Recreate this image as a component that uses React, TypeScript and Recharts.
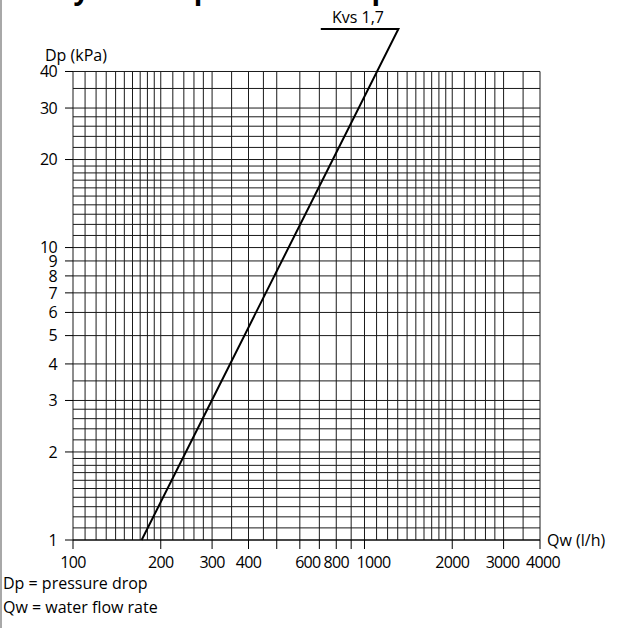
import React from "react"
import { ComposedChart, Line, XAxis, YAxis, ReferenceLine, ReferenceDot } from "recharts"

// grid lines of the log-log paper
const xGridLines = [
	100, 110, 120, 130, 140, 150, 160, 170, 180, 190, 200, 220, 240, 260, 280, 300, 350, 400, 450, 500, 600, 700, 800,
	900, 1000, 1100, 1200, 1300, 1400, 1500, 1600, 1700, 1800, 1900, 2000, 2200, 2400, 2600, 2800, 3000, 3500, 4000,
]
const yGridLines = [
	1, 1.1, 1.2, 1.3, 1.4, 1.5, 1.6, 1.7, 1.8, 1.9, 2, 2.2, 2.4, 2.6, 2.8, 3, 3.5, 4, 5, 6, 7, 8, 9, 10, 11, 12, 13, 14,
	15, 16, 17, 18, 19, 20, 22, 24, 26, 28, 30, 35, 40,
]

// axis ticks
const xTicks = [100, 200, 300, 400, 500, 600, 700, 800, 900, 1000, 2000, 3000, 4000]
const xTickLabels = [100, 200, 300, 400, 600, 800, 1000, 2000, 3000, 4000]
const yTicks = [1, 2, 3, 4, 5, 6, 7, 8, 9, 10, 20, 30, 40]

// Kvs 1,7 curve with its label leader
const kvsCurve = [
	{ q: 708, dp: 55.9 },
	{ q: 1307, dp: 55.9 },
	{ q: 172, dp: 1 },
]

const font = "'Open Sans', sans-serif"
const gridColor = "#1a1a1a"
const fontSize = 16
const digitSpacing = -0.7 // digits in the original are narrower than Open Sans

// the original nudges a few crowded labels sideways
const labelShift: Record<number, number> = { 600: 8, 1000: 9, 3000: -1, 4000: 3 }

const XTick = ({ x, y, payload }: any) => {
	const v = payload.value
	if (!xTickLabels.includes(v)) return null
	return (
		<text
			x={x + (labelShift[v] || 0)}
			y={y}
			dy="0.71em"
			textAnchor="middle"
			fontSize={fontSize}
			fontFamily={font}
			letterSpacing={digitSpacing}
			fill="#000">
			{v}
		</text>
	)
}

export default function App() {
	return (
		<div style={{ position: "absolute", left: 0, top: 0, width: 624, height: 628, background: "#fff", overflow: "hidden" }}>
			<ComposedChart width={624} height={628} margin={{ top: 20, right: 84, left: 13, bottom: 58 }}>
				<XAxis
					dataKey="q"
					type="number"
					scale="log"
					domain={[100, 4000]}
					ticks={xTicks}
					interval={0}
					tick={<XTick />}
					tickSize={9}
					tickMargin={8}
					stroke="#000"
					height={30}
				/>
				<YAxis
					type="number"
					scale="log"
					domain={[1, 60]}
					ticks={yTicks}
					interval={0}
					axisLine={false}
					tick={{ fontSize, fontFamily: font, fill: "#000", letterSpacing: digitSpacing }}
					tickSize={8}
					tickMargin={8}
					tickLine={{ stroke: "#000" }}
					width={60}
				/>
				{xGridLines.map((x) => (
					<ReferenceLine
						key={"vx" + x}
						segment={[
							{ x, y: 1 },
							{ x, y: 40 },
						]}
						stroke={gridColor}
						strokeWidth={1}
					/>
				))}
				{yGridLines.map((y) => (
					<ReferenceLine
						key={"hy" + y}
						segment={[
							{ x: 100, y },
							{ x: 4000, y },
						]}
						stroke={gridColor}
						strokeWidth={1}
					/>
				))}
				<Line
					data={kvsCurve}
					dataKey="dp"
					type="linear"
					stroke="#000"
					strokeWidth={2}
					dot={false}
					activeDot={false}
					isAnimationActive={false}
				/>
				<ReferenceDot
					x={950}
					y={55.9}
					r={0}
					fill="none"
					stroke="none"
					label={{ value: "Kvs 1,7", position: "top", offset: 6, fontSize, fontFamily: font, fill: "#000" }}
				/>
				<ReferenceDot
					x={4000}
					y={1}
					r={0}
					fill="none"
					stroke="none"
					label={{ value: "Qw (l/h)", position: "right", offset: 7, fontSize, fontFamily: font, fill: "#000" }}
				/>
			</ComposedChart>
			<svg width={624} height={628} style={{ position: "absolute", left: 0, top: 0, pointerEvents: "none" }}>
				<line x1={1} y1={0} x2={1} y2={628} stroke="#a8a8a8" strokeWidth={2} />
				<text x={52} y={-1.5} fontSize={28} fontWeight={700} fontFamily={font} fill="#000">
					Hydraulic pressure drop
				</text>
				<text x={45} y={61} fontSize={fontSize} fontFamily={font} fill="#000">
					Dp (kPa)
				</text>
				<text x={3} y={589} fontSize={fontSize} fontFamily={font} fill="#000">
					Dp = pressure drop
				</text>
				<text x={3} y={613} fontSize={fontSize} fontFamily={font} fill="#000">
					Qw = water flow rate
				</text>
			</svg>
		</div>
	)
}
